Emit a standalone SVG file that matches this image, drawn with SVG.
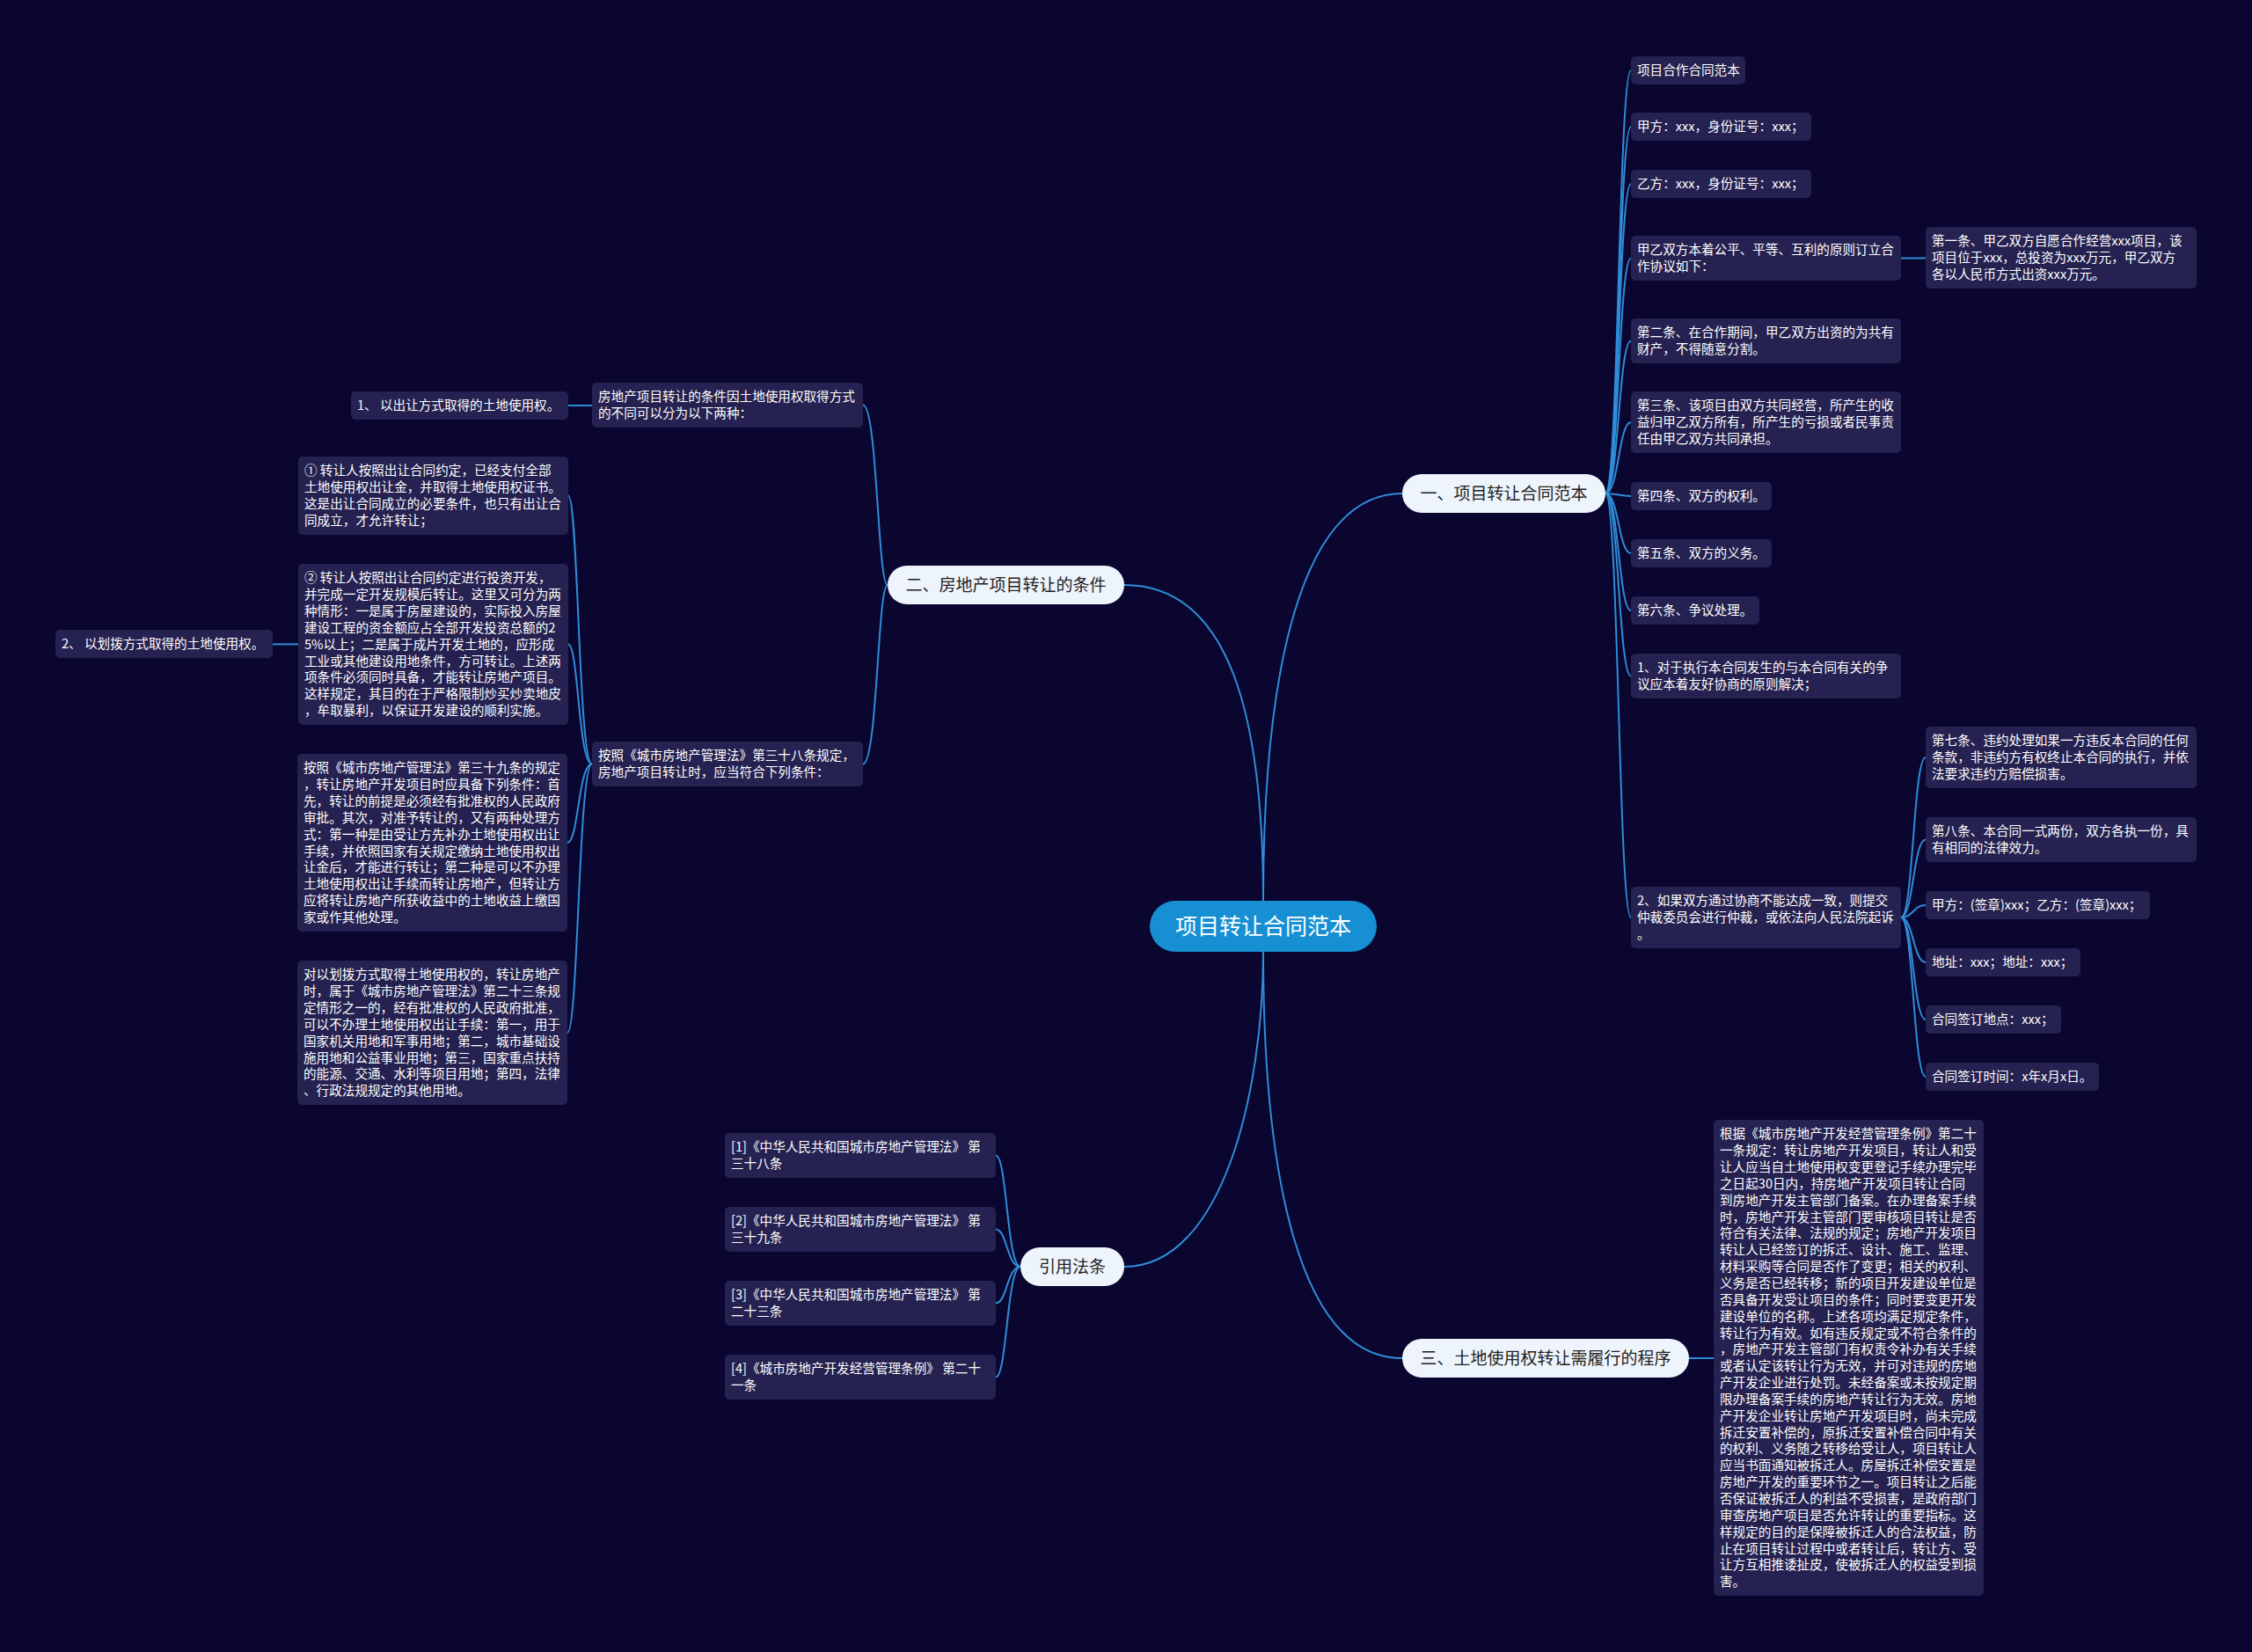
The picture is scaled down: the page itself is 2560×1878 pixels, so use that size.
<svg xmlns="http://www.w3.org/2000/svg" width="2560" height="1878" viewBox="0 0 2560 1878">
<defs>
<style>
.bg{fill:#0a0630}
.box{fill:#252150}
.t{font-family:"Noto Sans CJK SC","Noto Sans",sans-serif;font-size:14.6px;fill:#ffffff}
.pill{fill:#eef4fc}
.pt{font-family:"Noto Sans CJK SC","Noto Sans",sans-serif;font-size:19px;fill:#222222;text-anchor:middle}
.root{fill:#1790d3}
.rt{font-family:"Noto Sans CJK SC","Noto Sans",sans-serif;font-size:25px;fill:#ffffff;text-anchor:middle}
.link{fill:none;stroke:#2f8dd8;stroke-width:2}
</style>
</defs>
<rect class="bg" x="0" y="0" width="2560" height="1878"/>
<g id="connectors">
<path class="link" d="M1436,1024 C1436,760 1480,561 1594,561"/>
<path class="link" d="M1436,1024 C1436,820 1400,665 1278,665"/>
<path class="link" d="M1436,1082 C1436,1240 1390,1440 1278,1440"/>
<path class="link" d="M1436,1082 C1436,1330 1475,1544 1594,1544"/>
<path class="link" d="M1825,561 C1840,561 1840,80 1854,80"/>
<path class="link" d="M1825,561 C1840,561 1840,144 1854,144"/>
<path class="link" d="M1825,561 C1840,561 1840,209 1854,209"/>
<path class="link" d="M1825,561 C1840,561 1840,293.5 1854,293.5"/>
<path class="link" d="M1825,561 C1840,561 1840,387.5 1854,387.5"/>
<path class="link" d="M1825,561 C1840,561 1840,480 1854,480"/>
<path class="link" d="M1825,561 C1840,561 1840,564 1854,564"/>
<path class="link" d="M1825,561 C1840,561 1840,629 1854,629"/>
<path class="link" d="M1825,561 C1840,561 1840,694 1854,694"/>
<path class="link" d="M1825,561 C1840,561 1840,768.5 1854,768.5"/>
<path class="link" d="M1825,561 C1840,561 1840,1043 1854,1043"/>
<path class="link" d="M2161,293.5 H2189"/>
<path class="link" d="M2161,1043 C2175,1043 2175,861 2189,861"/>
<path class="link" d="M2161,1043 C2175,1043 2175,954.5 2189,954.5"/>
<path class="link" d="M2161,1043 C2175,1043 2175,1029 2189,1029"/>
<path class="link" d="M2161,1043 C2175,1043 2175,1094 2189,1094"/>
<path class="link" d="M2161,1043 C2175,1043 2175,1159 2189,1159"/>
<path class="link" d="M2161,1043 C2175,1043 2175,1224 2189,1224"/>
<path class="link" d="M1009,665 C997.5,665 997.5,460.5 981,460.5"/>
<path class="link" d="M1009,665 C997.5,665 997.5,868.5 981,868.5"/>
<path class="link" d="M673,461 H646"/>
<path class="link" d="M673,868.5 C657.5,868.5 657.5,563.5 646,563.5"/>
<path class="link" d="M673,868.5 C657.5,868.5 657.5,732.4 646,732.4"/>
<path class="link" d="M673,868.5 C657.5,868.5 657.5,958 645,958"/>
<path class="link" d="M673,868.5 C657.5,868.5 657.5,1174 645,1174"/>
<path class="link" d="M339,732.4 H310"/>
<path class="link" d="M1160,1440 C1144.7,1440 1144.7,1313.5 1132,1313.5"/>
<path class="link" d="M1160,1440 C1144.7,1440 1144.7,1397.5 1132,1397.5"/>
<path class="link" d="M1160,1440 C1144.7,1440 1144.7,1481.5 1132,1481.5"/>
<path class="link" d="M1160,1440 C1144.7,1440 1144.7,1565.5 1132,1565.5"/>
<path class="link" d="M1920,1544 H1948"/>
</g>
<g id="root">
<rect class="root" x="1307" y="1024" width="258" height="58" rx="29"/>
<text class="rt" x="1436" y="1062">项目转让合同范本</text>
</g>
<g id="b1">
<rect class="pill" x="1594" y="539" width="231" height="44" rx="22"/>
<text class="pt" x="1709.5" y="568">一、项目转让合同范本</text>
</g>
<g id="b2">
<rect class="pill" x="1009" y="643" width="269" height="44" rx="22"/>
<text class="pt" x="1143.5" y="672">二、房地产项目转让的条件</text>
</g>
<g id="b3">
<rect class="pill" x="1594" y="1522" width="326" height="44" rx="22"/>
<text class="pt" x="1757" y="1551">三、土地使用权转让需履行的程序</text>
</g>
<g id="b4">
<rect class="pill" x="1160" y="1418" width="118" height="44" rx="22"/>
<text class="pt" x="1219" y="1447">引用法条</text>
</g>
<g id="r1"><rect class="box" x="1854" y="64" width="130" height="32" rx="5"/><text class="t" x="1861" y="85.3">项目合作合同范本</text></g>
<g id="r2"><rect class="box" x="1854" y="128" width="205" height="32" rx="5"/><text class="t" x="1861" y="149.3">甲方：xxx，身份证号：xxx；</text></g>
<g id="r3"><rect class="box" x="1854" y="193" width="205" height="32" rx="5"/><text class="t" x="1861" y="214.3">乙方：xxx，身份证号：xxx；</text></g>
<g id="r4"><rect class="box" x="1854" y="268" width="307" height="51" rx="5"/><text class="t"><tspan x="1861" y="289.3">甲乙双方本着公平、平等、互利的原则订立合</tspan><tspan x="1861" y="308.15">作协议如下：</tspan></text></g>
<g id="r4a"><rect class="box" x="2189" y="258" width="308" height="70" rx="5"/><text class="t"><tspan x="2196" y="279.3">第一条、甲乙双方自愿合作经营xxx项目，该</tspan><tspan x="2196" y="298.15">项目位于xxx，总投资为xxx万元，甲乙双方</tspan><tspan x="2196" y="317">各以人民币方式出资xxx万元。</tspan></text></g>
<g id="r5"><rect class="box" x="1854" y="362" width="307" height="51" rx="5"/><text class="t"><tspan x="1861" y="383.3">第二条、在合作期间，甲乙双方出资的为共有</tspan><tspan x="1861" y="402.15">财产，不得随意分割。</tspan></text></g>
<g id="r6"><rect class="box" x="1854" y="445" width="307" height="70" rx="5"/><text class="t"><tspan x="1861" y="466.3">第三条、该项目由双方共同经营，所产生的收</tspan><tspan x="1861" y="485.15">益归甲乙双方所有，所产生的亏损或者民事责</tspan><tspan x="1861" y="504">任由甲乙双方共同承担。</tspan></text></g>
<g id="r7"><rect class="box" x="1854" y="548" width="160" height="32" rx="5"/><text class="t" x="1861" y="569.3">第四条、双方的权利。</text></g>
<g id="r8"><rect class="box" x="1854" y="613" width="160" height="32" rx="5"/><text class="t" x="1861" y="634.3">第五条、双方的义务。</text></g>
<g id="r9"><rect class="box" x="1854" y="678" width="146" height="32" rx="5"/><text class="t" x="1861" y="699.3">第六条、争议处理。</text></g>
<g id="r10"><rect class="box" x="1854" y="743" width="307" height="51" rx="5"/><text class="t"><tspan x="1861" y="764.3">1、对于执行本合同发生的与本合同有关的争</tspan><tspan x="1861" y="783.15">议应本着友好协商的原则解决；</tspan></text></g>
<g id="r11"><rect class="box" x="1854" y="1008" width="307" height="70" rx="5"/><text class="t"><tspan x="1861" y="1029.3">2、如果双方通过协商不能达成一致，则提交</tspan><tspan x="1861" y="1048.15">仲裁委员会进行仲裁，或依法向人民法院起诉</tspan><tspan x="1861" y="1067">。</tspan></text></g>
<g id="r11a"><rect class="box" x="2189" y="826" width="308" height="70" rx="5"/><text class="t"><tspan x="2196" y="847.3">第七条、违约处理如果一方违反本合同的任何</tspan><tspan x="2196" y="866.15">条款，非违约方有权终止本合同的执行，并依</tspan><tspan x="2196" y="885">法要求违约方赔偿损害。</tspan></text></g>
<g id="r11b"><rect class="box" x="2189" y="929" width="308" height="51" rx="5"/><text class="t"><tspan x="2196" y="950.3">第八条、本合同一式两份，双方各执一份，具</tspan><tspan x="2196" y="969.15">有相同的法律效力。</tspan></text></g>
<g id="r11c"><rect class="box" x="2189" y="1013" width="255" height="32" rx="5"/><text class="t" x="2196" y="1034.3">甲方：(签章)xxx；乙方：(签章)xxx；</text></g>
<g id="r11d"><rect class="box" x="2189" y="1078" width="176" height="32" rx="5"/><text class="t" x="2196" y="1099.3">地址：xxx；地址：xxx；</text></g>
<g id="r11e"><rect class="box" x="2189" y="1143" width="154" height="32" rx="5"/><text class="t" x="2196" y="1164.3">合同签订地点：xxx；</text></g>
<g id="r11f"><rect class="box" x="2189" y="1208" width="197" height="32" rx="5"/><text class="t" x="2196" y="1229.3">合同签订时间：x年x月x日。</text></g>
<g id="l1"><rect class="box" x="673" y="435" width="308" height="51" rx="5"/><text class="t"><tspan x="680" y="456.3">房地产项目转让的条件因土地使用权取得方式</tspan><tspan x="680" y="475.15">的不同可以分为以下两种：</tspan></text></g>
<g id="l1a"><rect class="box" x="399" y="445" width="247" height="32" rx="5"/><text class="t" x="406" y="466.3">1、 以出让方式取得的土地使用权。</text></g>
<g id="l2"><rect class="box" x="673" y="843" width="308" height="51" rx="5"/><text class="t"><tspan x="680" y="864.3">按照《城市房地产管理法》第三十八条规定，</tspan><tspan x="680" y="883.15">房地产项目转让时，应当符合下列条件：</tspan></text></g>
<g id="l2a"><rect class="box" x="339" y="519" width="307" height="89" rx="5"/><text class="t"><tspan x="346" y="540.3">① 转让人按照出让合同约定，已经支付全部</tspan><tspan x="346" y="559.15">土地使用权出让金，并取得土地使用权证书。</tspan><tspan x="346" y="578">这是出让合同成立的必要条件，也只有出让合</tspan><tspan x="346" y="596.85">同成立，才允许转让；</tspan></text></g>
<g id="l2b"><rect class="box" x="339" y="641" width="307" height="183" rx="5"/><text class="t"><tspan x="346" y="662.3">② 转让人按照出让合同约定进行投资开发，</tspan><tspan x="346" y="681.15">并完成一定开发规模后转让。这里又可分为两</tspan><tspan x="346" y="700">种情形：一是属于房屋建设的，实际投入房屋</tspan><tspan x="346" y="718.85">建设工程的资金额应占全部开发投资总额的2</tspan><tspan x="346" y="737.7">5%以上；二是属于成片开发土地的，应形成</tspan><tspan x="346" y="756.55">工业或其他建设用地条件，方可转让。上述两</tspan><tspan x="346" y="775.4">项条件必须同时具备，才能转让房地产项目。</tspan><tspan x="346" y="794.25">这样规定，其目的在于严格限制炒买炒卖地皮</tspan><tspan x="346" y="813.1">，牟取暴利，以保证开发建设的顺利实施。</tspan></text></g>
<g id="l2b1"><rect class="box" x="63" y="716" width="247" height="32" rx="5"/><text class="t" x="70" y="737.3">2、 以划拨方式取得的土地使用权。</text></g>
<g id="l2c"><rect class="box" x="338" y="857" width="307" height="202" rx="5"/><text class="t"><tspan x="345" y="878.3">按照《城市房地产管理法》第三十九条的规定</tspan><tspan x="345" y="897.15">，转让房地产开发项目时应具备下列条件：首</tspan><tspan x="345" y="916">先，转让的前提是必须经有批准权的人民政府</tspan><tspan x="345" y="934.85">审批。其次，对准予转让的，又有两种处理方</tspan><tspan x="345" y="953.7">式：第一种是由受让方先补办土地使用权出让</tspan><tspan x="345" y="972.55">手续，并依照国家有关规定缴纳土地使用权出</tspan><tspan x="345" y="991.4">让金后，才能进行转让；第二种是可以不办理</tspan><tspan x="345" y="1010.25">土地使用权出让手续而转让房地产，但转让方</tspan><tspan x="345" y="1029.1">应将转让房地产所获收益中的土地收益上缴国</tspan><tspan x="345" y="1047.95">家或作其他处理。</tspan></text></g>
<g id="l2d"><rect class="box" x="338" y="1092" width="307" height="164" rx="5"/><text class="t"><tspan x="345" y="1113.3">对以划拨方式取得土地使用权的，转让房地产</tspan><tspan x="345" y="1132.15">时，属于《城市房地产管理法》第二十三条规</tspan><tspan x="345" y="1151">定情形之一的，经有批准权的人民政府批准，</tspan><tspan x="345" y="1169.85">可以不办理土地使用权出让手续：第一，用于</tspan><tspan x="345" y="1188.7">国家机关用地和军事用地；第二，城市基础设</tspan><tspan x="345" y="1207.55">施用地和公益事业用地；第三，国家重点扶持</tspan><tspan x="345" y="1226.4">的能源、交通、水利等项目用地；第四，法律</tspan><tspan x="345" y="1245.25">、行政法规规定的其他用地。</tspan></text></g>
<g id="f1"><rect class="box" x="824" y="1288" width="308" height="51" rx="5"/><text class="t"><tspan x="831" y="1309.3">[1]《中华人民共和国城市房地产管理法》 第</tspan><tspan x="831" y="1328.15">三十八条</tspan></text></g>
<g id="f2"><rect class="box" x="824" y="1372" width="308" height="51" rx="5"/><text class="t"><tspan x="831" y="1393.3">[2]《中华人民共和国城市房地产管理法》 第</tspan><tspan x="831" y="1412.15">三十九条</tspan></text></g>
<g id="f3"><rect class="box" x="824" y="1456" width="308" height="51" rx="5"/><text class="t"><tspan x="831" y="1477.3">[3]《中华人民共和国城市房地产管理法》 第</tspan><tspan x="831" y="1496.15">二十三条</tspan></text></g>
<g id="f4"><rect class="box" x="824" y="1540" width="308" height="51" rx="5"/><text class="t"><tspan x="831" y="1561.3">[4]《城市房地产开发经营管理条例》 第二十</tspan><tspan x="831" y="1580.15">一条</tspan></text></g>
<g id="p1"><rect class="box" x="1948" y="1273" width="307" height="541" rx="5"/><text class="t"><tspan x="1955" y="1294.3">根据《城市房地产开发经营管理条例》第二十</tspan><tspan x="1955" y="1313.15">一条规定：转让房地产开发项目，转让人和受</tspan><tspan x="1955" y="1332">让人应当自土地使用权变更登记手续办理完毕</tspan><tspan x="1955" y="1350.85">之日起30日内，持房地产开发项目转让合同</tspan><tspan x="1955" y="1369.7">到房地产开发主管部门备案。在办理备案手续</tspan><tspan x="1955" y="1388.55">时，房地产开发主管部门要审核项目转让是否</tspan><tspan x="1955" y="1407.4">符合有关法律、法规的规定；房地产开发项目</tspan><tspan x="1955" y="1426.25">转让人已经签订的拆迁、设计、施工、监理、</tspan><tspan x="1955" y="1445.1">材料采购等合同是否作了变更；相关的权利、</tspan><tspan x="1955" y="1463.95">义务是否已经转移；新的项目开发建设单位是</tspan><tspan x="1955" y="1482.8">否具备开发受让项目的条件；同时要变更开发</tspan><tspan x="1955" y="1501.65">建设单位的名称。上述各项均满足规定条件，</tspan><tspan x="1955" y="1520.5">转让行为有效。如有违反规定或不符合条件的</tspan><tspan x="1955" y="1539.35">，房地产开发主管部门有权责令补办有关手续</tspan><tspan x="1955" y="1558.2">或者认定该转让行为无效，并可对违规的房地</tspan><tspan x="1955" y="1577.05">产开发企业进行处罚。未经备案或未按规定期</tspan><tspan x="1955" y="1595.9">限办理备案手续的房地产转让行为无效。房地</tspan><tspan x="1955" y="1614.75">产开发企业转让房地产开发项目时，尚未完成</tspan><tspan x="1955" y="1633.6">拆迁安置补偿的，原拆迁安置补偿合同中有关</tspan><tspan x="1955" y="1652.45">的权利、义务随之转移给受让人，项目转让人</tspan><tspan x="1955" y="1671.3">应当书面通知被拆迁人。房屋拆迁补偿安置是</tspan><tspan x="1955" y="1690.15">房地产开发的重要环节之一。项目转让之后能</tspan><tspan x="1955" y="1709">否保证被拆迁人的利益不受损害，是政府部门</tspan><tspan x="1955" y="1727.85">审查房地产项目是否允许转让的重要指标。这</tspan><tspan x="1955" y="1746.7">样规定的目的是保障被拆迁人的合法权益，防</tspan><tspan x="1955" y="1765.55">止在项目转让过程中或者转让后，转让方、受</tspan><tspan x="1955" y="1784.4">让方互相推诿扯皮，使被拆迁人的权益受到损</tspan><tspan x="1955" y="1803.25">害。</tspan></text></g>
</svg>
